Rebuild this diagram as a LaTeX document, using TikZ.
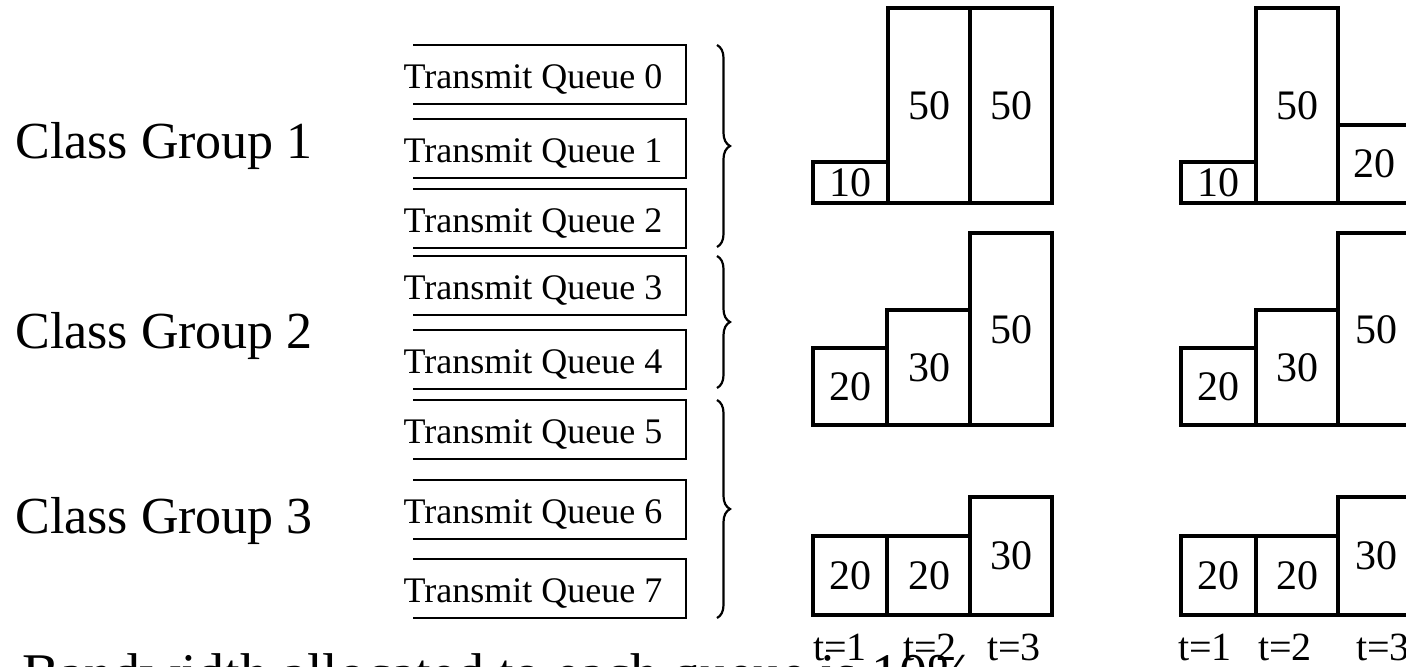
\documentclass[tikz,border=0pt]{standalone}
\usepackage{fontspec}
\setmainfont{Liberation Serif}
\usetikzlibrary{decorations.pathreplacing}
\begin{document}
\begin{tikzpicture}[x=0.5pt,y=-0.5pt,
  grp/.style={font=\fontsize{26}{30}\selectfont, anchor=base west, inner sep=0pt},
  qtext/.style={font=\fontsize{18}{21}\selectfont, anchor=base, inner sep=0pt},
  qline/.style={line width=1pt},
  qbox/.style={minimum width=136pt, minimum height=29pt, inner sep=0pt, anchor=north west},
  barline/.style={line width=2pt},
  num/.style={font=\fontsize{21}{24}\selectfont, inner sep=0pt},
  tlab/.style={font=\fontsize{20}{24}\selectfont, anchor=base, inner sep=0pt},
  bottomtext/.style={font=\fontsize{28}{32}\selectfont, anchor=base west, inner sep=0pt},
  bracestyle/.style={decorate, decoration={brace, amplitude=6.5pt}, line width=1.1pt}]

\useasboundingbox (0,0) rectangle (1406,666);
\clip (0,0) rectangle (1406,666);

% class group labels
\node[grp] (cg1) at (15,158) {Class Group 1};
\node[grp] (cg2) at (15,348) {Class Group 2};
\node[grp] (cg3) at (15,533) {Class Group 3};

% transmit queues
\foreach \i/\t in {0/45,1/119,2/189,3/256,4/330,5/400,6/480,7/559} {
  \node[qbox] (q\i) at (413,\t) {};
  \draw[qline] (q\i.north west) -- (q\i.north east) -- (q\i.south east) -- (q\i.south west);
  \node[qtext] (qt\i) at (533,{\t+43}) {Transmit Queue \i};
}

% braces
\coordinate (b1a) at (717,45);  \coordinate (b1b) at (717,247);
\coordinate (b2a) at (717,256); \coordinate (b2b) at (717,388);
\coordinate (b3a) at (717,400); \coordinate (b3b) at (717,618);
\draw[bracestyle] (b1a) -- (b1b);
\draw[bracestyle] (b2a) -- (b2b);
\draw[bracestyle] (b3a) -- (b3b);

% bar charts: left column
\draw[barline] (813,162) rectangle (888,203);
\draw[barline] (888,8) rectangle (970,203);
\draw[barline] (970,8) rectangle (1052,203);
\node[num] (l11) at (850,183) {10};
\node[num] (l12) at (929,106) {50};
\node[num] (l13) at (1011,106) {50};

\draw[barline] (813,348) rectangle (887,425);
\draw[barline] (887,310) rectangle (970,425);
\draw[barline] (970,233) rectangle (1052,425);
\node[num] (l21) at (850,387) {20};
\node[num] (l22) at (929,368) {30};
\node[num] (l23) at (1011,330) {50};

\draw[barline] (813,536) rectangle (887,615);
\draw[barline] (887,536) rectangle (970,615);
\draw[barline] (970,497) rectangle (1052,615);
\node[num] (l31) at (850,576) {20};
\node[num] (l32) at (929,576) {20};
\node[num] (l33) at (1011,556) {30};

% bar charts: right column
\draw[barline] (1181,162) rectangle (1256,203);
\draw[barline] (1256,8) rectangle (1338,203);
\draw[barline] (1338,125) rectangle (1420,203);
\node[num] (r11) at (1218,183) {10};
\node[num] (r12) at (1297,106) {50};
\node[num] (r13) at (1374,164) {20};

\draw[barline] (1181,348) rectangle (1256,425);
\draw[barline] (1256,310) rectangle (1338,425);
\draw[barline] (1338,233) rectangle (1420,425);
\node[num] (r21) at (1218,387) {20};
\node[num] (r22) at (1297,368) {30};
\node[num] (r23) at (1376,330) {50};

\draw[barline] (1181,536) rectangle (1256,615);
\draw[barline] (1256,536) rectangle (1338,615);
\draw[barline] (1338,497) rectangle (1420,615);
\node[num] (r31) at (1218,576) {20};
\node[num] (r32) at (1297,576) {20};
\node[num] (r33) at (1376,556) {30};

% time labels
\node[tlab] (lt1) at (840,660) {t=1};
\node[tlab] (lt2) at (930,660) {t=2};
\node[tlab] (lt3) at (1014,660) {t=3};
\node[tlab] (rt1) at (1205,660) {t=1};
\node[tlab] (rt2) at (1285,660) {t=2};
\node[tlab] (rt3) at (1383,660) {t=3};

% bottom text (cut by the frame)
\node[bottomtext] (bw) at (22,692) {Bandwidth allocated to each queue is 10\%};
\end{tikzpicture}
\end{document}
